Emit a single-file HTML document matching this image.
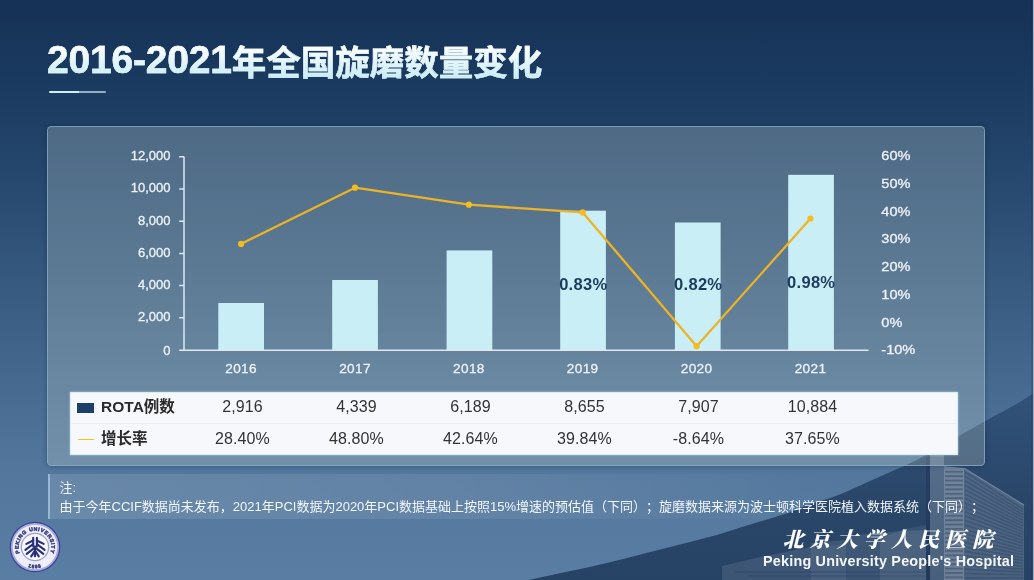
<!DOCTYPE html>
<html lang="zh-CN">
<head>
<meta charset="utf-8">
<title>2016-2021年全国旋磨数量变化</title>
<style>
*{margin:0;padding:0;box-sizing:border-box}
html,body{width:1034px;height:580px;overflow:hidden;background:#2c4a72}
body{font-family:"Liberation Sans","Noto Sans CJK SC",sans-serif;position:relative}
#stage{position:absolute;left:0;top:0;width:1034px;height:580px;overflow:hidden;
  background:linear-gradient(180deg,rgb(21,49,85) 0%,rgb(29,61,99) 18%,rgb(45,79,117) 38%,rgb(65,101,138) 60%,rgb(82,118,156) 80%,rgb(90,126,163) 100%)}
#bgsvg{position:absolute;left:0;top:0}
h1{position:absolute;left:47px;top:35.8px;font-size:34.5px;line-height:48px;font-weight:bold;white-space:nowrap;
  letter-spacing:0;color:#e8f8fd;-webkit-text-stroke:.45px #e6f6fb;
  background:linear-gradient(180deg,#ffffff 20%,#c4ecf7 85%);-webkit-background-clip:text;background-clip:text;-webkit-text-fill-color:transparent}
h1 .num{font-size:39px;letter-spacing:-.2px;vertical-align:2.2px;-webkit-text-stroke:.5px #eaf8fc}
#uline{position:absolute;left:49px;top:91px;width:57px;height:2px;border-radius:1px;
  background:linear-gradient(90deg,#d2eff9 0,#d2eff9 52%,#93adc8 53%,#93adc8 100%)}
#panel{position:absolute;left:47px;top:126px;width:938px;height:340px;border:1.8px solid rgba(138,176,208,.72);border-radius:4.5px;
  background:linear-gradient(180deg,rgba(228,242,235,.235) 0%,rgba(246,250,228,.2) 100%);
  box-shadow:0 0 5px rgba(10,30,50,.4)}
#redge{position:absolute;left:1031px;top:0;width:3px;height:580px;background:linear-gradient(90deg,rgba(15,30,55,.0) 0,rgba(15,30,55,.45) 1.4px,rgb(158,174,198) 2px,rgb(158,174,198) 3px)}
#chart{position:absolute;left:0;top:0}
#chart text{font-family:"Liberation Sans","Noto Sans CJK SC",sans-serif}
#tbl{position:absolute;left:69.5px;top:391.6px;width:888.8px;height:63.6px;background:#f6f8fb;border:1px solid #d9edf7;
  box-shadow:0 0 2px rgba(190,225,240,.8)}
#tbl .row{position:absolute;left:0;width:100%;height:31px}
#tbl .r1{top:0;border-bottom:1px solid #eaedf2}
#tbl .r2{top:32px}
#tbl .lab{position:absolute;left:30.6px;top:-1.8px;line-height:31px;font-size:15.5px;font-weight:bold;color:#2a2a2a;white-space:nowrap}
#tbl .v{position:absolute;top:-1.3px;width:114px;margin-left:1px;text-align:center;line-height:31px;font-size:16px;letter-spacing:.1px;color:#333}
#sw1{position:absolute;left:6px;top:10px;width:17px;height:10px;background:#1f3f6b}
#sw2{position:absolute;left:7px;top:14.5px;width:16px;height:1px;background:#f3c41c}
#note{position:absolute;left:47.5px;top:474px;width:940px;height:44.5px;border-left:2.5px solid #94b8d6;
  background:linear-gradient(90deg,rgba(255,255,255,.12) 0%,rgba(255,255,255,.08) 45%,rgba(255,255,255,0) 85%);
  color:#f2f7fb;font-size:13px;line-height:19px;padding:4px 0 0 10px;white-space:nowrap;text-spacing-trim:space-all}
#hosp-cn{position:absolute;left:782.5px;top:525.8px;width:216px;font-family:"Liberation Serif","Noto Serif CJK SC",serif;font-weight:900;font-style:italic;
  font-size:21px;line-height:28px;letter-spacing:6.1px;color:#fdfeff;white-space:nowrap}
#hosp-en{position:absolute;left:763px;top:552px;font-size:14.4px;line-height:18px;font-weight:bold;color:#f4f7fa;white-space:nowrap;letter-spacing:.2px}
#logo{position:absolute;left:7.7px;top:519.9px}
</style>
</head>
<body>
<div id="stage">
<svg id="bgsvg" width="1034" height="580" viewBox="0 0 1034 580">
  <defs>
    <linearGradient id="darkg" x1="0" y1="0" x2="0" y2="1">
      <stop offset="0" stop-color="rgb(50,82,121)"/><stop offset=".55" stop-color="rgb(42,71,106)"/><stop offset="1" stop-color="rgb(38,66,100)"/>
    </linearGradient>
  </defs>
  <path id="arc" d="M528.4,580 C541.4,577.3 555.0,574.5 568,571.6 C581.0,568.8 593.8,566.0 606.7,562.9 C619.6,559.8 632.5,556.4 645.4,553.2 C658.3,550.0 672.7,546.4 684,543.5 C695.3,540.6 704.3,538.4 713,536 C721.7,533.6 728.2,531.3 736,528.9 C743.8,526.5 751.2,524.2 760,521.5 C768.8,518.8 781.3,515.0 789,512.4 C796.7,509.8 798.0,508.6 806,505.8 C814.0,503.0 828.0,498.9 837,495.5 C846.0,492.1 852.3,488.9 860,485.5 C867.7,482.1 874.5,479.1 883,475.3 C891.5,471.5 902.5,466.9 911,462.8 C919.5,458.7 926.0,455.0 934,450.5 C942.0,446.0 950.3,440.9 958.7,436 C967.1,431.1 975.2,426.6 984.5,421.4 C993.8,416.2 1006.5,409.7 1014.7,405 C1023.0,400.3 1027.3,397.2 1034,393 L1034,580 Z" fill="url(#darkg)"/>
  <defs>
    <pattern id="win" width="6" height="4.4" patternUnits="userSpaceOnUse"><rect width="6" height="2" fill="#1d3556" fill-opacity=".4"/></pattern>
    <linearGradient id="fadeb" x1="0" y1="0" x2="0" y2="1"><stop offset="0" stop-color="#fff" stop-opacity=".2"/><stop offset="1" stop-color="#fff" stop-opacity=".16"/></linearGradient>
    <filter id="soft" x="-5%" y="-5%" width="110%" height="110%"><feGaussianBlur stdDeviation=".7"/></filter>
    <clipPath id="arcclip"><path d="M528.4,580 C541.4,577.3 555.0,574.5 568,571.6 C581.0,568.8 593.8,566.0 606.7,562.9 C619.6,559.8 632.5,556.4 645.4,553.2 C658.3,550.0 672.7,546.4 684,543.5 C695.3,540.6 704.3,538.4 713,536 C721.7,533.6 728.2,531.3 736,528.9 C743.8,526.5 751.2,524.2 760,521.5 C768.8,518.8 781.3,515.0 789,512.4 C796.7,509.8 798.0,508.6 806,505.8 C814.0,503.0 828.0,498.9 837,495.5 C846.0,492.1 852.3,488.9 860,485.5 C867.7,482.1 874.5,479.1 883,475.3 C891.5,471.5 902.5,466.9 911,462.8 C919.5,458.7 926.0,455.0 934,450.5 C942.0,446.0 950.3,440.9 958.7,436 C967.1,431.1 975.2,426.6 984.5,421.4 C993.8,416.2 1006.5,409.7 1014.7,405 C1023.0,400.3 1027.3,397.2 1034,393 L1034,580 Z"/></clipPath>
  </defs>
  <g id="bldg" clip-path="url(#arcclip)" filter="url(#soft)">
    <!-- low wing -->
    <path d="M722,566 L760,557 L800,549 L811,547 L811,543 L846,540 L846,536 L900,531 L926,530 L926,580 L722,580 Z" fill="#fff" fill-opacity=".1"/>
    <path d="M811,548 L846,544 L846,580 L811,580 Z" fill="#fff" fill-opacity=".06"/>
    <path d="M735,572 H926 M748,576 H926" stroke="#1d3556" stroke-opacity=".25" stroke-width="1.5"/>
    <path d="M880,538 L905,529 L926,525 L926,580 L880,580 Z" fill="#fff" fill-opacity=".07"/>
    <!-- tower -->
    <rect x="926" y="452" width="4" height="128" fill="#142a48" fill-opacity=".35"/>
    <rect x="930" y="455" width="14" height="125" fill="url(#fadeb)"/>
    <path d="M944,466 L964,468 L964,580 L944,580 Z" fill="#fff" fill-opacity=".33"/>
    <path d="M945,470 L963,471 L963,580 L945,580 Z" fill="url(#win)"/>
    <path d="M964,468 L1024,505 L1024,580 L964,580 Z" fill="#fff" fill-opacity=".17"/>
    <path d="M965,472.0 L1023,509.0 M965,476.4 L1023,511.9 M965,480.8 L1023,514.7 M965,485.2 L1023,517.6 M965,489.7 L1023,520.4 M965,494.1 L1023,523.3 M965,498.5 L1023,526.2 M965,502.9 L1023,529.0 M965,507.3 L1023,531.9 M965,511.7 L1023,534.8 M965,516.1 L1023,537.6 M965,520.6 L1023,540.5 M965,525.0 L1023,543.3 M965,529.4 L1023,546.2 M965,533.8 L1023,549.1 M965,538.2 L1023,551.9 M965,542.6 L1023,554.8 M965,547.0 L1023,557.7 M965,551.4 L1023,560.5 M965,555.9 L1023,563.4 M965,560.3 L1023,566.2 M965,564.7 L1023,569.1 M965,569.1 L1023,572.0 M965,573.5 L1023,574.8 M965,577.9 L1023,577.7 M965,582.3 L1023,580.6 M965,586.8 L1023,583.4 M965,591.2 L1023,586.3 M965,595.6 L1023,589.1 M965,600.0 L1023,592.0" stroke="#1d3556" stroke-opacity=".28" stroke-width="1.6" fill="none"/>
    <path d="M964,468 L1024,505" stroke="#e2ecf6" stroke-opacity=".3" stroke-width="1.2"/>
  </g>
</svg>

<h1><span class="num">2016-2021</span>年全国旋磨数量变化</h1>
<div id="uline"></div>

<div id="panel"></div>
<div id="redge"></div>

<svg id="chart" width="1034" height="580" viewBox="0 0 1034 580">
  <!-- bars -->
  <g fill="#c9eef5">
    <rect x="218.3" y="303" width="45.7" height="47"/>
    <rect x="332.2" y="280" width="45.7" height="70"/>
    <rect x="446.6" y="250.4" width="45.7" height="99.6"/>
    <rect x="560.2" y="210.7" width="45.7" height="139.3"/>
    <rect x="674.9" y="222.5" width="45.7" height="127.5"/>
    <rect x="788.2" y="174.8" width="45.7" height="175.2"/>
  </g>
  <!-- axes -->
  <g stroke="#dfe8f1" stroke-width="1.5" fill="none">
    <path d="M184,156.5 V350.2 H868.5"/>
    <path d="M179.2,156.8 H184 M179.2,189 H184 M179.2,221.2 H184 M179.2,253.4 H184 M179.2,285.6 H184 M179.2,317.8 H184 M179.2,350.2 H184"/>
  </g>
  <!-- line -->
  <polyline points="241.1,243.9 355,187.7 468.9,204.7 582.7,212.4 696.6,346.2 810.5,218.5" fill="none" stroke="#ecb324" stroke-width="2.3" stroke-linejoin="round"/>
  <g fill="#f4bc1e">
    <circle cx="241.1" cy="243.9" r="3.1"/><circle cx="355" cy="187.7" r="3.1"/><circle cx="468.9" cy="204.7" r="3.1"/>
    <circle cx="582.7" cy="212.4" r="3.1"/><circle cx="696.6" cy="346.2" r="3.1"/><circle cx="810.5" cy="218.5" r="3.1"/>
  </g>
  <!-- y labels left -->
  <g font-size="13" fill="#eef3f8" stroke="#eef3f8" stroke-width=".3" text-anchor="end">
    <text x="170.5" y="160.1">12,000</text>
    <text x="170.5" y="192.3">10,000</text>
    <text x="170.5" y="224.5">8,000</text>
    <text x="170.5" y="256.7">6,000</text>
    <text x="170.5" y="288.9">4,000</text>
    <text x="170.5" y="321.1">2,000</text>
    <text x="170.5" y="354.6">0</text>
  </g>
  <!-- y labels right -->
  <g font-size="13" fill="#eef3f8" stroke="#eef3f8" stroke-width=".3" transform="translate(881.3 0) scale(1.12 1) translate(-881 0)">
    <text x="881" y="160.0">60%</text>
    <text x="881" y="187.8">50%</text>
    <text x="881" y="215.6">40%</text>
    <text x="881" y="243.3">30%</text>
    <text x="881" y="271.1">20%</text>
    <text x="881" y="298.9">10%</text>
    <text x="881" y="326.7">0%</text>
    <text x="881" y="354.5">-10%</text>
  </g>
  <!-- x labels -->
  <g font-size="13.6" letter-spacing=".35" fill="#eef3f8" stroke="#eef3f8" stroke-width=".3" text-anchor="middle">
    <text x="241.1" y="372.5">2016</text><text x="355" y="372.5">2017</text><text x="468.9" y="372.5">2018</text>
    <text x="582.7" y="372.5">2019</text><text x="696.6" y="372.5">2020</text><text x="810.5" y="372.5">2021</text>
  </g>
  <!-- data labels -->
  <g font-size="16.5" letter-spacing=".3" font-weight="bold" fill="#1c3a5e" text-anchor="middle">
    <text x="583.3" y="289.5">0.83%</text><text x="698.2" y="289.5">0.82%</text><text x="811.2" y="287.5">0.98%</text>
  </g>
</svg>

<div id="tbl">
  <div class="row r1"><span id="sw1"></span><span class="lab">ROTA例数</span>
    <span class="v" style="left:114px">2,916</span><span class="v" style="left:228px">4,339</span><span class="v" style="left:342px">6,189</span>
    <span class="v" style="left:456px">8,655</span><span class="v" style="left:570px">7,907</span><span class="v" style="left:684px">10,884</span></div>
  <div class="row r2"><span id="sw2"></span><span class="lab">增长率</span>
    <span class="v" style="left:114px">28.40%</span><span class="v" style="left:228px">48.80%</span><span class="v" style="left:342px">42.64%</span>
    <span class="v" style="left:456px">39.84%</span><span class="v" style="left:570px">-8.64%</span><span class="v" style="left:684px">37.65%</span></div>
</div>

<div id="note">注:<br>由于今年CCIF数据尚未发布，2021年PCI数据为2020年PCI数据基础上按照15%增速的预估值（下同）；旋磨数据来源为波士顿科学医院植入数据系统（下同）；</div>

<div id="hosp-cn">北京大学人民医院</div>
<div id="hosp-en">Peking University People's Hospital</div>

<svg id="logo" width="54" height="54" viewBox="-27 -27 54 54">
  <defs>
    <path id="lp1" d="M-14.65,7.15 A16.3,16.3 0 1 1 14.65,7.15"/>
    <path id="lp2" d="M-9.95,18.72 A21.2,21.2 0 0 0 9.95,18.72"/>
  </defs>
  <circle r="25.3" fill="#3d428c"/>
  <circle r="24.1" fill="#a4a9e4"/>
  <circle r="22.3" fill="#eeeefa"/>
  <circle r="14.3" fill="#9da1c2"/>
  <circle r="13" fill="#f7f7fe"/>
  <g font-family="Liberation Sans, sans-serif" font-weight="bold" fill="#34397f" stroke="#34397f" stroke-width=".45">
    <text font-size="5.3" letter-spacing=".55"><textPath href="#lp1" startOffset="50%" text-anchor="middle">PEKING UNIVERSITY</textPath></text>
    <text font-size="4.8" letter-spacing=".9"><textPath href="#lp2" startOffset="50%" text-anchor="middle">1898</textPath></text>
  </g>
  <g stroke="#2b2f7a" stroke-width="2.1" stroke-linecap="round" fill="none">
    <path d="M-1.8,-9.3 V-.5 M1.9,-9.3 V-.5 M0,-.5 V9.3"/>
    <path d="M-1.9,-6.5 L-8.6,-3.1 M-1.9,-2.8 L-9.6,2.8 M-.5,.9 L-8.3,6.9 M0,3.6 L-3.8,9.4"/>
    <path d="M1.9,-6.5 L8.6,-3.1 M1.9,-2.8 L9.6,2.8 M.5,.9 L8.3,6.9 M0,3.6 L3.8,9.4"/>
  </g>
</svg>
</div>
</body>
</html>
